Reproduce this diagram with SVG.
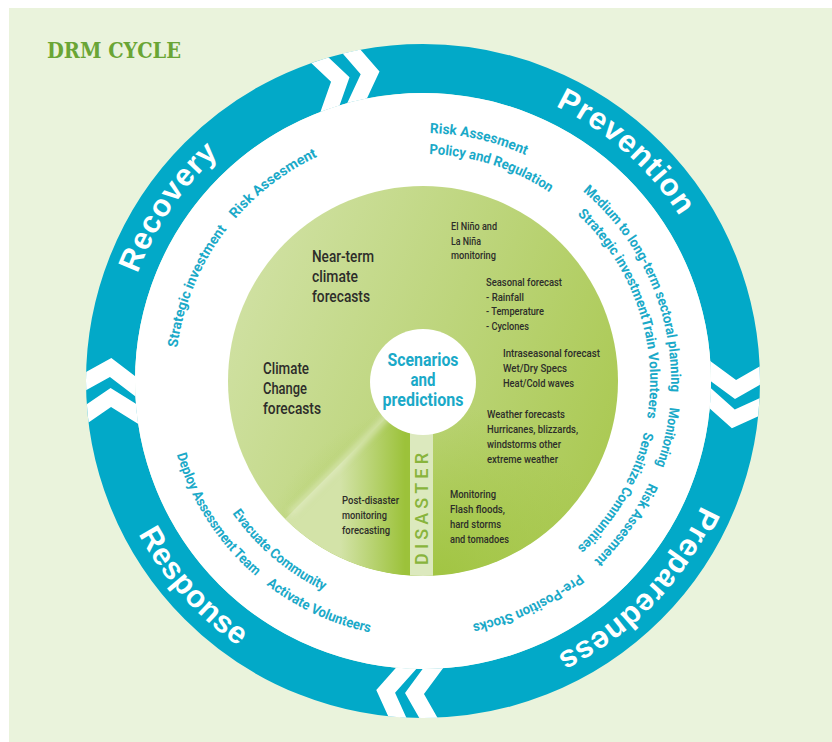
<svg xmlns="http://www.w3.org/2000/svg" width="832" height="742" viewBox="0 0 832 742">
<defs>
<style>
.ring{font-family:"Liberation Sans",Arial,sans-serif;font-weight:700;font-size:31px;fill:#fff;text-anchor:middle}
.ann{font-family:Roboto,"DejaVu Sans",sans-serif;font-weight:700;font-size:14px;fill:#1AA9C8;text-anchor:middle}
.dk{font-family:Roboto,"DejaVu Sans",sans-serif;font-weight:500;fill:#2D2D2A}
.big{font-size:16.5px}
.sm{font-size:11.5px}
.sc{font-family:Roboto,"DejaVu Sans",sans-serif;font-weight:700;font-size:19px;fill:#1AA9C8;text-anchor:middle}
.chev{fill:#fff}
</style>
<linearGradient id="gDisc" x1="0" y1="0.3" x2="1" y2="0.7">
<stop offset="0" stop-color="#D0E1A3"/>
<stop offset="0.5" stop-color="#BDD57C"/>
<stop offset="1" stop-color="#AAC952"/>
</linearGradient>
<linearGradient id="gWedge" gradientUnits="userSpaceOnUse" x1="340" y1="470" x2="405" y2="470">
<stop offset="0" stop-color="#D3E3A8"/>
<stop offset="1" stop-color="#9CC23A"/>
</linearGradient>
<radialGradient id="gBottom" gradientUnits="userSpaceOnUse" cx="435" cy="585" r="180">
<stop offset="0" stop-color="#9EC33C" stop-opacity="0.9"/>
<stop offset="1" stop-color="#9EC33C" stop-opacity="0"/>
</radialGradient>
<filter id="blur" x="-50%" y="-50%" width="200%" height="200%"><feGaussianBlur stdDeviation="3"/></filter>
<clipPath id="annulus"><path clip-rule="evenodd" d="M86,381 A337,337 0 1,1 760,381 A337,337 0 1,1 86,381 Z M135,381 A288,288 0 1,1 711,381 A288,288 0 1,1 135,381 Z"/></clipPath>
<clipPath id="disc"><circle cx="423" cy="381" r="195"/></clipPath>
<polygon id="chev" class="chev" points="735.5,381 775.5,355 775.5,336 735.5,362 695.5,336 695.5,355"/>
<path id="cw305" d="M122.63,328.04 A305,305 0 0,1 723.37,328.04"/>
<path id="cw248" d="M178.77,337.93 A248,248 0 0,1 667.23,337.93"/>
<path id="cw227" d="M199.45,341.58 A227,227 0 0,1 646.55,341.58"/>
<path id="ccw323" d="M104.90,437.09 A323,323 0 0,0 741.10,437.09"/>
<path id="ccw257" d="M169.90,425.63 A257,257 0 0,0 676.10,425.63"/>
<path id="ccw232" d="M194.52,421.29 A232,232 0 0,0 651.48,421.29"/>
</defs>

<rect x="9" y="8" width="823" height="734" fill="#EAF3DC"/>

<g id="title">
<text x="47" y="58" font-family="DejaVu Serif, Liberation Serif, serif" font-weight="700" font-size="22" fill="#6AA535" textLength="134" lengthAdjust="spacingAndGlyphs">DRM CYCLE</text>
</g>

<g id="ring">
<circle cx="423" cy="381" r="312.5" fill="none" stroke="#02A9C8" stroke-width="49"/>
<circle cx="423" cy="381" r="288" fill="#fff"/>
</g>

<g id="connectors" clip-path="url(#annulus)">
<use href="#chev" transform="rotate(3.3 423 381)"/>
<use href="#chev" transform="rotate(8.7 423 381)"/>
<use href="#chev" transform="rotate(93.3 423 381)"/>
<use href="#chev" transform="rotate(98.6 423 381)"/>
<use href="#chev" transform="rotate(178.7 423 381)"/>
<use href="#chev" transform="rotate(184.2 423 381)"/>
<use href="#chev" transform="rotate(256.4 423 381)"/>
<use href="#chev" transform="rotate(262 423 381)"/>
</g>

<g id="phases">
<text class="ring" transform="rotate(41.5 423 381)"><textPath href="#cw305" startOffset="50%" textLength="168" lengthAdjust="spacing">Prevention</textPath></text>
<text class="ring" transform="rotate(134 423 381)"><textPath href="#cw305" startOffset="50%" textLength="212" lengthAdjust="spacing">Preparedness</textPath></text>
<text class="ring" transform="rotate(48.3 423 381)"><textPath href="#ccw323" startOffset="50%" textLength="152" lengthAdjust="spacing">Response</textPath></text>
<text class="ring" transform="rotate(-55.7 423 381)"><textPath href="#cw305" startOffset="50%" textLength="146" lengthAdjust="spacing">Recovery</textPath></text>
</g>

<g id="actions">
<text class="ann" transform="rotate(-37.2 423 381)"><textPath href="#cw248" startOffset="50%" textLength="104" lengthAdjust="spacingAndGlyphs">Risk Assesment</textPath></text>
<text class="ann" transform="rotate(-67.3 423 381)"><textPath href="#cw248" startOffset="50%" textLength="130" lengthAdjust="spacingAndGlyphs">Strategic investment</textPath></text>
<text class="ann" transform="rotate(13 423 381)"><textPath href="#cw248" startOffset="50%" textLength="99" lengthAdjust="spacingAndGlyphs">Risk Assesment</textPath></text>
<text class="ann" transform="rotate(17.7 423 381)"><textPath href="#cw227" startOffset="50%" textLength="128" lengthAdjust="spacingAndGlyphs">Policy and Regulation</textPath></text>
<text class="ann" transform="rotate(66.3 423 381)"><textPath href="#cw248" startOffset="50%" textLength="227" lengthAdjust="spacingAndGlyphs">Medium to long-term sectoral planning</textPath></text>
<text class="ann" transform="rotate(71.1 423 381)"><textPath href="#cw227" startOffset="50%" textLength="224" lengthAdjust="spacingAndGlyphs">Strategic investmentTrain Volunteers</textPath></text>
<text class="ann" transform="rotate(103 423 381)"><textPath href="#cw248" startOffset="50%" textLength="60" lengthAdjust="spacingAndGlyphs">Monitoring</textPath></text>
<text class="ann" transform="rotate(120.1 423 381)"><textPath href="#cw227" startOffset="50%" textLength="136" lengthAdjust="spacingAndGlyphs">Sensitize Communities</textPath></text>
<text class="ann" transform="rotate(125.3 423 381)"><textPath href="#cw248" startOffset="50%" textLength="96" lengthAdjust="spacingAndGlyphs">Risk Assesment</textPath></text>
<text class="ann" transform="rotate(154.8 423 381)"><textPath href="#cw248" startOffset="50%" textLength="119" lengthAdjust="spacingAndGlyphs">Pre-Position Stocks</textPath></text>
<text class="ann" transform="rotate(57 423 381)"><textPath href="#ccw257" startOffset="50%" textLength="147" lengthAdjust="spacingAndGlyphs">Deploy Assessment Team</textPath></text>
<text class="ann" transform="rotate(40.3 423 381)"><textPath href="#ccw232" startOffset="50%" textLength="121" lengthAdjust="spacingAndGlyphs">Evacuate Community</textPath></text>
<text class="ann" transform="rotate(24.75 423 381)"><textPath href="#ccw257" startOffset="50%" textLength="115" lengthAdjust="spacingAndGlyphs">Activate Volunteers</textPath></text>
</g>

<g id="forecast-disc">
<circle cx="423" cy="381" r="195" fill="url(#gDisc)"/>
<g clip-path="url(#disc)">
<circle cx="423" cy="381" r="195" fill="url(#gBottom)"/>
<path d="M423,381 L285.1,518.9 A195,195 0 0,0 423,576 Z" fill="url(#gWedge)"/>
<line x1="405" y1="399" x2="290" y2="514" stroke="#E4EDC6" stroke-width="6" opacity="0.7" filter="url(#blur)"/>
<rect x="410" y="420" width="23" height="170" fill="#DCE9BE"/>
</g>
</g>

<g id="disaster">
<text transform="translate(428 509) rotate(-90)" x="0" y="0" text-anchor="middle" font-family="Roboto, Liberation Sans, sans-serif" font-weight="500" font-size="18" fill="#88B43C" textLength="112" lengthAdjust="spacing">DISASTER</text>
</g>

<g id="near-term">
<text class="dk big" x="312" y="262" textLength="62" lengthAdjust="spacingAndGlyphs">Near-term</text>
<text class="dk big" x="312" y="282" textLength="46" lengthAdjust="spacingAndGlyphs">climate</text>
<text class="dk big" x="312" y="302" textLength="58" lengthAdjust="spacingAndGlyphs">forecasts</text>
</g>
<g id="climate-change">
<text class="dk big" x="263" y="374" textLength="46" lengthAdjust="spacingAndGlyphs">Climate</text>
<text class="dk big" x="263" y="394" textLength="44" lengthAdjust="spacingAndGlyphs">Change</text>
<text class="dk big" x="263" y="414" textLength="58" lengthAdjust="spacingAndGlyphs">forecasts</text>
</g>
<g id="enso">
<text class="dk sm" x="451" y="230" textLength="46" lengthAdjust="spacingAndGlyphs">El Niño and</text>
<text class="dk sm" x="451" y="244.5" textLength="30" lengthAdjust="spacingAndGlyphs">La Niña</text>
<text class="dk sm" x="451" y="259" textLength="45" lengthAdjust="spacingAndGlyphs">monitoring</text>
</g>
<g id="seasonal">
<text class="dk sm" x="486" y="286" textLength="76" lengthAdjust="spacingAndGlyphs">Seasonal forecast</text>
<text class="dk sm" x="486" y="300.5" textLength="38" lengthAdjust="spacingAndGlyphs">- Rainfall</text>
<text class="dk sm" x="486" y="315" textLength="58" lengthAdjust="spacingAndGlyphs">- Temperature</text>
<text class="dk sm" x="486" y="329.5" textLength="43" lengthAdjust="spacingAndGlyphs">- Cyclones</text>
</g>
<g id="intraseasonal">
<text class="dk sm" x="503" y="357" textLength="97" lengthAdjust="spacingAndGlyphs">Intraseasonal forecast</text>
<text class="dk sm" x="503" y="372" textLength="64" lengthAdjust="spacingAndGlyphs">Wet/Dry Specs</text>
<text class="dk sm" x="503" y="387" textLength="71" lengthAdjust="spacingAndGlyphs">Heat/Cold waves</text>
</g>
<g id="weather">
<text class="dk sm" x="487" y="418" textLength="78" lengthAdjust="spacingAndGlyphs">Weather forecasts</text>
<text class="dk sm" x="487" y="433" textLength="91" lengthAdjust="spacingAndGlyphs">Hurricanes, blizzards,</text>
<text class="dk sm" x="487" y="448" textLength="74" lengthAdjust="spacingAndGlyphs">windstorms other</text>
<text class="dk sm" x="487" y="463" textLength="71" lengthAdjust="spacingAndGlyphs">extreme weather</text>
</g>
<g id="monitoring">
<text class="dk sm" x="450" y="498" textLength="46" lengthAdjust="spacingAndGlyphs">Monitoring</text>
<text class="dk sm" x="450" y="513" textLength="55" lengthAdjust="spacingAndGlyphs">Flash floods,</text>
<text class="dk sm" x="450" y="528" textLength="51" lengthAdjust="spacingAndGlyphs">hard storms</text>
<text class="dk sm" x="450" y="543" textLength="59" lengthAdjust="spacingAndGlyphs">and tomadoes</text>
</g>
<g id="post-disaster">
<text class="dk sm" x="342" y="504" textLength="57" lengthAdjust="spacingAndGlyphs">Post-disaster</text>
<text class="dk sm" x="342" y="519" textLength="45" lengthAdjust="spacingAndGlyphs">monitoring</text>
<text class="dk sm" x="342" y="534" textLength="48" lengthAdjust="spacingAndGlyphs">forecasting</text>
</g>

<g id="scenarios">
<circle cx="423" cy="382" r="53" fill="#fff"/>
<text class="sc" x="423" y="366" textLength="71" lengthAdjust="spacingAndGlyphs">Scenarios</text>
<text class="sc" x="423" y="386" textLength="25" lengthAdjust="spacingAndGlyphs">and</text>
<text class="sc" x="423" y="406" textLength="81" lengthAdjust="spacingAndGlyphs">predictions</text>
</g>
</svg>
